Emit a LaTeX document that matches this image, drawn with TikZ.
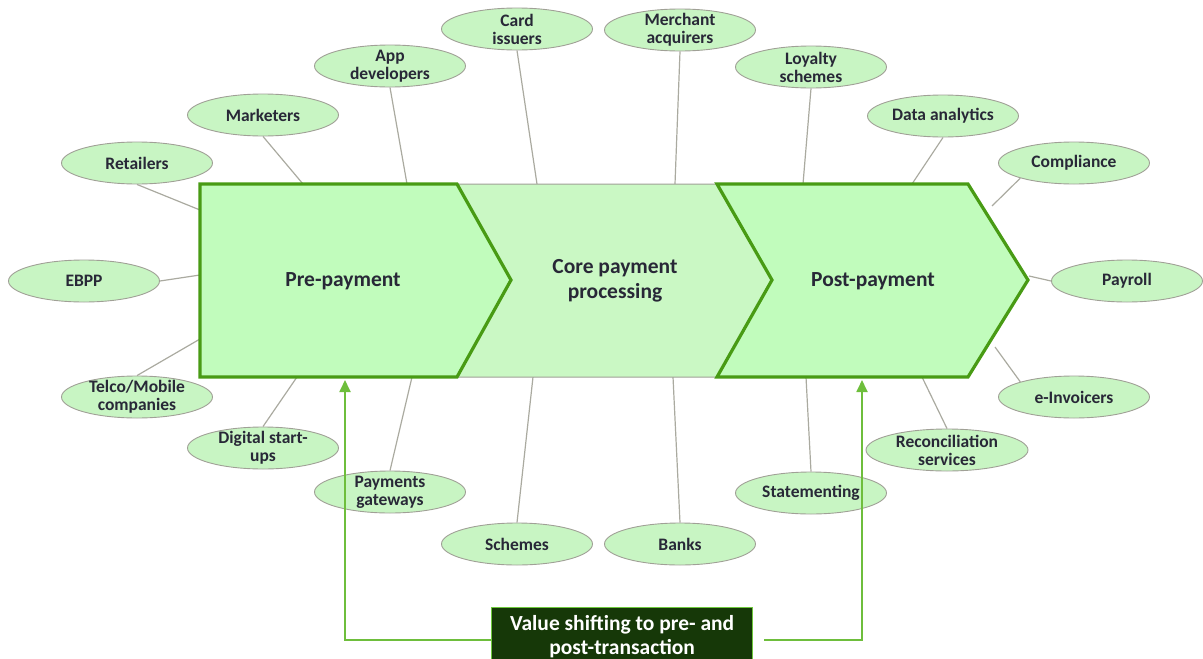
\documentclass[tikz,border=0pt]{standalone}
\usepackage{fontspec}
\setmainfont{Carlito}
\usetikzlibrary{shapes.geometric,arrows.meta}
\definecolor{ellfill}{RGB}{200,245,195}
\definecolor{ellline}{RGB}{160,160,150}
\definecolor{conn}{RGB}{170,170,160}
\definecolor{chevfill}{RGB}{193,252,188}
\definecolor{corefill}{RGB}{202,248,196}
\definecolor{chevline}{RGB}{72,155,20}
\definecolor{arrgreen}{RGB}{110,190,60}
\definecolor{boxfill}{RGB}{22,56,8}
\definecolor{boxline}{RGB}{110,200,60}
\definecolor{txt}{RGB}{40,40,55}
\tikzset{
  actor/.style={ellipse, draw=ellline, line width=0.9pt, fill=ellfill, minimum width=151pt, minimum height=42pt, inner xsep=0pt, inner ysep=-8pt, align=center, font=\fontsize{17.5}{18}\selectfont\bfseries, text=txt},
  link/.style={draw=conn, line width=1.2pt},
  chev/.style={draw=chevline, line width=3.2pt, fill=chevfill, line join=miter},
  corestyle/.style={draw=ellline, line width=1pt, fill=corefill},
  stage/.style={font=\fontsize{21.5}{25}\selectfont\bfseries, text=txt, align=center},
  garrow/.style={draw=arrgreen, line width=1.8pt, -{Triangle[width=11pt,length=12pt]}},
  vbox/.style={draw=boxline, line width=1.2pt, fill=boxfill, text=white, align=center, font=\fontsize{21.5}{24}\selectfont\bfseries, minimum width=261pt, minimum height=58pt, anchor=north west, inner sep=0pt}
}
\begin{document}
\begin{tikzpicture}[x=1pt,y=-1pt]
\useasboundingbox (0,0) rectangle (1203,659);

% ellipses
\node[actor] (ret) at (137,163) {Retailers};
\node[actor] (ebpp) at (84,281) {EBPP};
\node[actor] (tel) at (137,397) {Telco/Mobile\\companies};
\node[actor] (mkt) at (263,115) {Marketers};
\node[actor] (app) at (390,66) {App\\developers};
\node[actor] (card) at (517,29) {Card\\issuers};
\node[actor] (merch) at (680,30) {Merchant\\acquirers};
\node[actor] (loy) at (811,67) {Loyalty\\schemes};
\node[actor] (data) at (943,116) {Data analytics};
\node[actor] (comp) at (1074,163) {Compliance};
\node[actor] (pay) at (1127,281) {Payroll};
\node[actor] (einv) at (1074,397) {e-Invoicers};
\node[actor] (dig) at (263,448) {Digital start-\\ups};
\node[actor] (pgw) at (390,492) {Payments\\gateways};
\node[actor] (sch) at (517,544) {Schemes};
\node[actor] (bank) at (680,544) {Banks};
\node[actor] (stm) at (811,493) {Statementing};
\node[actor, minimum width=162pt] (rec) at (947,450) {Reconciliation\\services};

% connector end coordinates on the stages
\coordinate (cRet) at (200,210);
\coordinate (cEbpp) at (200,275);
\coordinate (cTel) at (200,339);
\coordinate (cMkt) at (303,184);
\coordinate (cApp) at (407,184);
\coordinate (cCard) at (537,184);
\coordinate (cMerch) at (675,184);
\coordinate (cLoy) at (803,184);
\coordinate (cData) at (912,184);
\coordinate (cComp) at (992,206);
\coordinate (cPay) at (1029,276);
\coordinate (cEinv) at (995,347);
\coordinate (cDig) at (297,377);
\coordinate (cPgw) at (412,377);
\coordinate (cSch) at (533,377);
\coordinate (cBank) at (673,377);
\coordinate (cStm) at (806,377);
\coordinate (cRec) at (922,377);

\draw[link] (ret.south) -- (cRet);
\draw[link] (ebpp.east) -- (cEbpp);
\draw[link] (tel.north) -- (cTel);
\draw[link] (mkt.south) -- (cMkt);
\draw[link] (app.south) -- (cApp);
\draw[link] (card.south) -- (cCard);
\draw[link] (merch.south) -- (cMerch);
\draw[link] (loy.south) -- (cLoy);
\draw[link] (data.south) -- (cData);
\draw[link] (comp.south west) -- (cComp);
\draw[link] (pay.west) -- (cPay);
\draw[link] (einv.north west) -- (cEinv);
\draw[link] (dig.north) -- (cDig);
\draw[link] (pgw.north) -- (cPgw);
\draw[link] (sch.north) -- (cSch);
\draw[link] (bank.north) -- (cBank);
\draw[link] (stm.north) -- (cStm);
\draw[link] (rec.north) -- (cRec);

% stages
\draw[corestyle] (455,184) -- (722,184) -- (775,280) -- (722,377) -- (455,377) -- (510,280) -- cycle;
\draw[chev] (200,184) -- (457,184) -- (511,280) -- (457,377) -- (200,377) -- cycle;
\draw[chev] (717,184) -- (968,184) -- (1028,280) -- (968,377) -- (717,377) -- (772,280) -- cycle;
\node[stage] (pre) at (343,281) {Pre-payment};
\node[stage] (core) at (615,281) {Core payment\\processing};
\node[stage] (post) at (873,281) {Post-payment};

% value box and arrows
\node[vbox] (vb) at (491,607) {Value shifting to pre- and\\post-transaction};
\coordinate (lstart) at (491,640);
\coordinate (ltip) at (345,380);
\coordinate (rstart) at (764,640);
\coordinate (rtip) at (862,380);
\draw[garrow] (lstart) -| (ltip);
\draw[garrow] (rstart) -| (rtip);
\end{tikzpicture}
\end{document}
